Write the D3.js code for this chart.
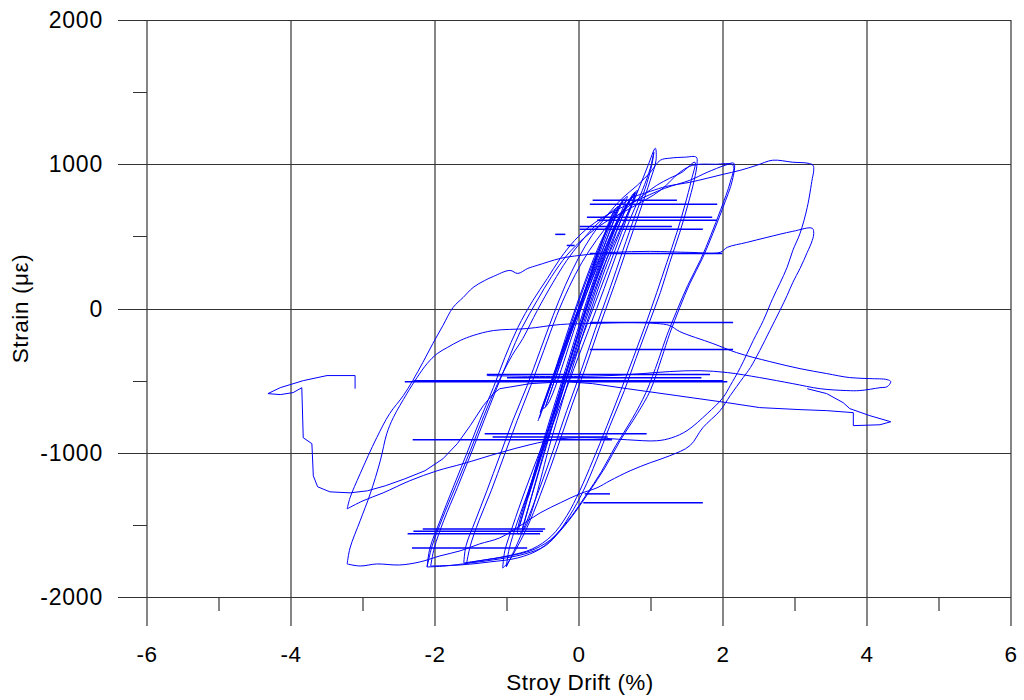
<!DOCTYPE html>
<html>
<head>
<meta charset="utf-8">
<script src="https://cdn.jsdelivr.net/npm/d3@7"></script>
<style>
  body { margin: 0; background: #ffffff; }
  svg { display: block; }
  text { font-family: "Liberation Sans", Arial, sans-serif; fill: #000; }
</style>
</head>
<body>
<svg id="chart" width="1024" height="700"></svg>
<script>
// Axis ticks
const xTicks = [-6, -4, -2, 0, 2, 4, 6];
const xMinorTicks = [-5, -3, -1, 1, 3, 5];
const yTicks = [-2000, -1000, 0, 1000, 2000];
const yMinorTicks = [-1500, -500, 500, 1500];

// Hysteresis record: [drift %, strain με]
// small elastic cycles
const cycleE0 = [[-0.26,-326],[0.01,21],[0.26,389],[0.24,361],[-0.01,-14],[-0.29,-361]];
const cycleE1 = [[-0.46,-674],[-0.22,-326],[0.01,0],[0.26,347],[0.50,681],[0.46,653],[0.22,319],[-0.03,-28],[-0.26,-361],[-0.50,-694],
                 [-0.43,-660],[0.04,14],[0.54,708],[0.49,674],[0.00,-14],[-0.47,-687]];
const cycleE2 = [[-0.53,-708],[-0.13,-187],[0.29,333],[0.67,778],[0.61,743],[0.24,299],[-0.18,-222],[-0.54,-722]];
const cycleE3 = [[-0.79,-1528],[-0.43,-917],[-0.10,-361],[0.29,229],[0.81,819],[0.75,785],[0.24,194],[-0.15,-396],[-0.50,-951],[-0.85,-1562],
                 [-0.75,-1521],[-0.39,-917],[-0.06,-361],[0.33,229],[0.78,806],[0.72,771],[0.28,194],[-0.11,-396],[-0.46,-951],[-0.79,-1542]];
const cycleE4 = [[-0.82,-1500],[-0.48,-930],[-0.14,-380],[0.24,210],[0.56,620],[0.78,800],[0.74,770],[0.52,600],[0.20,190],[-0.18,-410],[-0.52,-960],[-0.84,-1530]];
const cycleE5 = [[-0.70,-1300],[-0.42,-860],[-0.10,-330],[0.27,240],[0.58,640],[0.74,780],[0.70,750],[0.54,610],[0.22,200],[-0.14,-380],[-0.46,-900],[-0.72,-1320]];
const cycleE6 = [[-0.55,-760],[-0.30,-400],[0.02,80],[0.35,500],[0.62,760],[0.58,730],[0.30,460],[-0.03,30],[-0.34,-440],[-0.57,-780]];

// ±1 % cycles
const cycle1a = [[-1.06,-1799],[-1.03,-1680],[-0.92,-1507],[-0.75,-1264],[-0.54,-986],[-0.33,-708],[-0.13,-431],[0.08,-153],[0.29,125],[0.50,403],[0.68,646],[0.85,854],[0.96,993],[1.06,1111],
                 [1.07,1028],[0.99,889],[0.85,681],[0.68,437],[0.49,160],[0.29,-118],[0.10,-396],[-0.10,-674],[-0.29,-951],[-0.49,-1229],[-0.68,-1472],[-0.85,-1646],[-0.99,-1764],[-1.06,-1799]];
const cycle1b = [[-1.01,-1792],[-0.97,-1667],[-0.86,-1486],[-0.69,-1250],[-0.49,-972],[-0.28,-694],[-0.07,-417],[0.14,-139],[0.35,139],[0.54,403],[0.72,632],[0.88,819],[0.99,972],[1.04,1083],
                 [1.01,993],[0.92,833],[0.78,646],[0.61,403],[0.42,125],[0.22,-153],[0.03,-431],[-0.17,-708],[-0.36,-986],[-0.56,-1264],[-0.74,-1493],[-0.89,-1667],[-1.01,-1792]];

// ±1.5 % cycles
const cycle15a = [[-1.60,-1764],[-1.57,-1646],[-1.44,-1472],[-1.28,-1264],[-1.10,-1021],[-0.92,-778],[-0.72,-535],[-0.54,-292],[-0.36,-49],[-0.19,160],[-0.01,347],[0.18,507],[0.39,646],[0.60,764],[0.81,854],[0.99,944],[1.13,1028],[1.26,1042],[1.47,1049],[1.63,1049],
                  [1.64,1007],[1.60,889],[1.51,715],[1.40,528],[1.26,319],[1.13,111],[0.96,-118],[0.79,-347],[0.63,-569],[0.43,-812],[0.24,-1056],[0.06,-1264],[-0.13,-1437],[-0.33,-1576],[-0.61,-1667],[-0.96,-1715],[-1.31,-1743],[-1.60,-1764]];
const cycle15b = [[-1.56,-1764],[-1.51,-1646],[-1.39,-1472],[-1.22,-1264],[-1.04,-1021],[-0.86,-778],[-0.67,-535],[-0.49,-292],[-0.31,-49],[-0.14,146],[0.04,319],[0.24,472],[0.44,597],[0.67,701],[0.89,785],[1.08,854],[1.26,903],[1.43,944],[1.61,1014],
                  [1.56,889],[1.47,715],[1.36,528],[1.22,319],[1.08,111],[0.92,-118],[0.75,-347],[0.58,-569],[0.39,-812],[0.19,-1056],[0.01,-1264],[-0.17,-1437],[-0.38,-1576],[-0.65,-1667],[-0.99,-1715],[-1.31,-1743],[-1.56,-1764]];

// ±2 % cycles
const cycle2a = [[-2.11,-1792],[-2.07,-1660],[-1.93,-1472],[-1.75,-1243],[-1.56,-1007],[-1.38,-778],[-1.19,-549],[-1.03,-340],[-0.85,-132],[-0.64,56],[-0.44,208],[-0.26,347],[-0.06,472],[0.15,569],[0.43,660],[0.78,743],[1.19,833],[1.54,889],[1.78,944],[2.03,993],[2.15,1007],
                 [2.13,889],[2.00,701],[1.86,521],[1.72,354],[1.54,174],[1.40,7],[1.26,-174],[1.15,-340],[0.99,-569],[0.81,-729],[0.57,-917],[0.36,-1104],[0.15,-1264],[-0.06,-1417],[-0.26,-1542],[-0.47,-1646],[-0.75,-1701],[-1.10,-1736],[-1.51,-1764],[-1.86,-1785],[-2.11,-1792]];
const cycle2b = [[-2.06,-1785],[-2.01,-1660],[-1.88,-1472],[-1.69,-1243],[-1.50,-1007],[-1.32,-778],[-1.14,-549],[-0.97,-340],[-0.79,-132],[-0.58,56],[-0.38,222],[-0.17,368],[0.08,493],[0.36,597],[0.71,694],[1.13,819],[1.40,944],[1.58,993],[1.89,1000],[2.14,993],
                 [2.10,875],[1.97,688],[1.83,507],[1.69,340],[1.51,160],[1.36,-14],[1.22,-187],[1.10,-361],[0.93,-583],[0.74,-764],[0.51,-951],[0.31,-1132],[0.10,-1292],[-0.10,-1437],[-0.31,-1562],[-0.54,-1667],[-0.85,-1729],[-1.24,-1757],[-1.65,-1778],[-2.06,-1785]];

// ±3 % cycles
const cycle3a = [[-2.11,-1792],[-2.04,-1646],[-1.90,-1458],[-1.71,-1229],[-1.51,-986],[-1.32,-743],[-1.13,-521],[-0.93,-326],[-0.78,-208],[-0.58,-14],[-0.36,181],[-0.17,333],[0.01,451],[0.19,556],[0.39,646],[0.57,715],[0.75,771],[0.99,812],[1.22,847],[1.54,875],[1.78,903],[2.00,930],[2.24,958],[2.47,993],[2.69,1028],[2.97,1014],[3.18,1007],[3.25,993],
                 [3.26,958],[3.24,900],[3.17,701],[3.07,521],[2.97,403],[2.89,285],[2.79,174],[2.69,69],[2.56,-83],[2.42,-222],[2.24,-410],[2.10,-535],[2.00,-618],[1.78,-729],[1.50,-847],[1.29,-896],[1.08,-917],[0.67,-910],[0.19,-896],[-0.26,-903],[-0.68,-944],[-1.10,-1000],[-1.61,-1076],[-1.97,-1125],[-2.35,-1194],[-2.72,-1278],[-3.00,-1333],[-3.22,-1389]];
const cycle3b = [[-3.22,-1389],[-3.18,-1312],[-3.04,-1146],[-2.81,-896],[-2.63,-729],[-2.44,-604],[-2.31,-500],[-2.17,-375],[-2.03,-243],[-1.89,-118],[-1.75,7],[-1.61,76],[-1.47,146],[-1.31,194],[-1.19,222],[-0.96,264],[-0.85,243],[-0.71,278],[-0.58,299],[-0.26,347],[0.01,368],[0.47,389],[0.99,396],[1.54,389],[1.96,389],[2.06,424],[2.33,458],[2.61,493],[2.97,535],[3.24,556],
                 [3.26,521],[3.24,472],[3.17,389],[3.07,278],[2.97,181],[2.89,90],[2.79,-14],[2.65,-153],[2.51,-292],[2.38,-410],[2.28,-479],[2.10,-604],[1.96,-708],[1.72,-826],[1.54,-951],[1.26,-1021],[0.99,-1069],[0.71,-1125],[0.43,-1194],[0.25,-1243],[0.01,-1285],[-0.26,-1347],[-0.54,-1417],[-0.82,-1507],[-1.10,-1590],[-1.38,-1632],[-1.65,-1680],[-1.93,-1715],[-2.21,-1757],[-2.49,-1778],[-2.81,-1771],[-3.04,-1785],[-3.22,-1771]];

// ±4 % cycles
const cycle4a = [[-3.22,-1771],[-3.18,-1660],[-3.04,-1472],[-2.90,-1285],[-2.76,-1056],[-2.67,-868],[-2.58,-757],[-2.39,-590],[-2.25,-479],[-2.11,-382],[-1.97,-313],[-1.83,-271],[-1.65,-222],[-1.47,-187],[-1.19,-153],[-0.72,-139],[-0.26,-111],[0.15,-104],[0.71,-97],[1.08,-104],[1.26,-118],[1.40,-160],[1.86,-243],[2.19,-306],[2.65,-368],[3.07,-417],[3.44,-451],[3.76,-479],[4.04,-486],[4.28,-493],[4.33,-507],
                 [4.28,-542],[4.18,-549],[3.90,-569],[3.72,-569],[3.35,-556],[2.97,-521],[2.51,-479],[2.06,-444],[1.68,-431],[1.26,-437],[0.89,-451],[0.43,-465],[-0.26,-472],[-1.28,-465]];
const cycle4b = [[-3.11,-556],[-3.11,-465],[-3.50,-465],[-3.83,-500],[-4.15,-549],[-4.32,-590],[-4.15,-597],[-3.97,-583],[-3.85,-549],[-3.83,-896],[-3.71,-937],[-3.69,-1160],[-3.63,-1236],[-3.46,-1271],[-3.18,-1278],[-2.94,-1264],[-2.69,-1229],[-2.42,-1181],[-2.14,-1125],[-1.89,-1042],[-1.69,-937],[-1.51,-812],[-1.33,-674],[-1.19,-590],[-1.10,-556],
                 [-0.68,-521],[-0.17,-507],[0.19,-521],[0.67,-556],[1.36,-604],[2.06,-653],[2.51,-687],[3.07,-701],[3.44,-708],[3.81,-722],[3.81,-812],[4.18,-806],[4.33,-785],[4.04,-743],[3.76,-694],[3.67,-653],[3.44,-590],[3.17,-556]];

// Drift jumps recorded at constant strain: [strain, drift from, drift to]
const driftJumps = [
  [750, 0.19, 1.36], [722, 0.15, 1.92], [632, 0.11, 1.85], [611, 0.25, 1.92],
  [569, 0.01, 1.29], [549, 0.01, 1.72], [382, 0.15, 1.99], [514, -0.33, -0.19],
  [437, -0.17, -0.06], [-97, 0.15, 2.14], [-285, 0.15, 2.14], [-458, -1.28, 1.82],
  [-480, -1.0, 1.7], [-507, -2.42, 2.06], [-500, -2.3, 2.0], [-868, -1.31, 0.94],
  [-890, -1.2, 0.4], [-910, -2.31, 0.46], [-1285, 0.08, 0.43], [-1347, 0.06, 1.72],
  [-1528, -2.17, -0.47], [-1545, -2.3, -0.5], [-1562, -2.38, -0.54], [-1660, -2.32, -0.72]
];

// smooth cycles vs. the last one, which has abrupt steps and is drawn point to point
const smoothCycles = [cycleE0, cycleE1, cycleE2, cycleE3, cycleE4, cycleE5, cycleE6, cycle1a, cycle1b,
                      cycle15a, cycle15b, cycle2a, cycle2b, cycle3a, cycle3b, cycle4a];
const steppedCycles = [cycle4b];

const svg = d3.select("#chart");
const x = d3.scaleLinear().domain([-6, 6]).range([147, 1011]);
const y = d3.scaleLinear().domain([-2000, 2000]).range([597, 20]);
const crisp = v => Math.round(v) + 0.5;

// grid + major ticks (lines run past the frame as tick marks)
const grid = svg.append("g").attr("stroke", "#333");
grid.selectAll("line.v").data(xTicks).join("line")
  .attr("x1", d => x(d)).attr("x2", d => x(d))
  .attr("y1", y(2000)).attr("y2", y(-2000) + 29)
  .attr("stroke-width", 1.2);
grid.selectAll("line.h").data(yTicks).join("line")
  .attr("x1", x(-6) - 29).attr("x2", x(6))
  .attr("y1", d => crisp(y(d))).attr("y2", d => crisp(y(d)))
  .attr("stroke-width", 1);
grid.selectAll("line.xm").data(xMinorTicks).join("line")
  .attr("x1", d => x(d)).attr("x2", d => x(d))
  .attr("y1", y(-2000)).attr("y2", y(-2000) + 14)
  .attr("stroke-width", 1.2);
grid.selectAll("line.ym").data(yMinorTicks).join("line")
  .attr("x1", x(-6) - 14).attr("x2", x(-6))
  .attr("y1", d => crisp(y(d))).attr("y2", d => crisp(y(d)))
  .attr("stroke-width", 1);

// tick labels
svg.append("g").selectAll("text").data(xTicks).join("text")
  .attr("x", d => x(d)).attr("y", 662)
  .attr("text-anchor", "middle").attr("font-size", 22.5).attr("letter-spacing", 0.5)
  .text(d => d);
svg.append("g").selectAll("text").data(yTicks).join("text")
  .attr("x", 103).attr("y", d => y(d) + 8)
  .attr("text-anchor", "end").attr("font-size", 23).attr("letter-spacing", 0.8)
  .text(d => d);

// axis titles
svg.append("text").attr("x", 580).attr("y", 690)
  .attr("text-anchor", "middle").attr("font-size", 22.5).attr("letter-spacing", 0.4)
  .text("Stroy Drift (%)");
svg.append("text")
  .attr("transform", `translate(28,${y(0)}) rotate(-90)`)
  .attr("text-anchor", "middle").attr("font-size", 22.5).attr("letter-spacing", 0.6)
  .text("Strain (με)");

// strain trace
const smoothLine = d3.line().x(d => x(d[0])).y(d => y(d[1])).curve(d3.curveCatmullRom.alpha(0.5));
const stepLine = d3.line().x(d => x(d[0])).y(d => y(d[1]));
const trace = svg.append("g").attr("fill", "none").attr("stroke", "#0000ff")
  .attr("stroke-width", 1).attr("stroke-linejoin", "round");
trace.selectAll("path.cyc").data(smoothCycles).join("path").attr("class", "cyc").attr("d", smoothLine);
trace.selectAll("path.step").data(steppedCycles).join("path").attr("class", "step").attr("d", stepLine);
trace.selectAll("line.jump").data(driftJumps).join("line")
  .attr("x1", d => x(d[1])).attr("x2", d => x(d[2]))
  .attr("y1", d => y(d[0])).attr("y2", d => y(d[0]))
  .attr("stroke-width", 1.5);
</script>
</body>
</html>
